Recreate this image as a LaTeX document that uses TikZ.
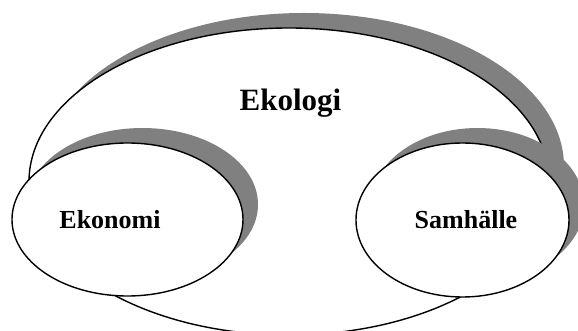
\documentclass[tikz,border=0pt]{standalone}
\usepackage{fontspec}
\setmainfont{Liberation Serif}
\usetikzlibrary{shapes.geometric,shadows}

\tikzset{
  sphere/.style={ellipse, draw=black, line width=1.4pt, fill=white, inner sep=0pt,
    drop shadow={shadow xshift=15pt, shadow yshift=15pt, fill=black!50, opacity=1}},
  bigtitle/.style={font=\bfseries\fontsize{31}{31}\selectfont, anchor=base, inner sep=0pt},
  smalltitle/.style={font=\bfseries\fontsize{26}{26}\selectfont, anchor=base, inner sep=0pt}
}

\begin{document}
\begin{tikzpicture}[x=1pt, y=-1pt]
  \useasboundingbox (0,0) rectangle (578,331);
  \clip (0,0) rectangle (578,331);

  % outer sphere
  \node[sphere, minimum width=520pt, minimum height=307pt] (ekologi) at (289,181.5) {};
  % inner spheres
  \node[sphere, minimum width=231pt, minimum height=153pt] (ekonomi) at (127.5,219.5) {};
  \node[sphere, minimum width=213pt, minimum height=154pt] (samhalle) at (462.5,220) {};

  % labels
  \node[bigtitle] (ekologiText) at (290.5,111) {Ekologi};
  \node[smalltitle] (ekonomiText) at (110,229) {Ekonomi};
  \node[smalltitle] (samhalleText) at (466,229) {Samhälle};
\end{tikzpicture}
\end{document}
